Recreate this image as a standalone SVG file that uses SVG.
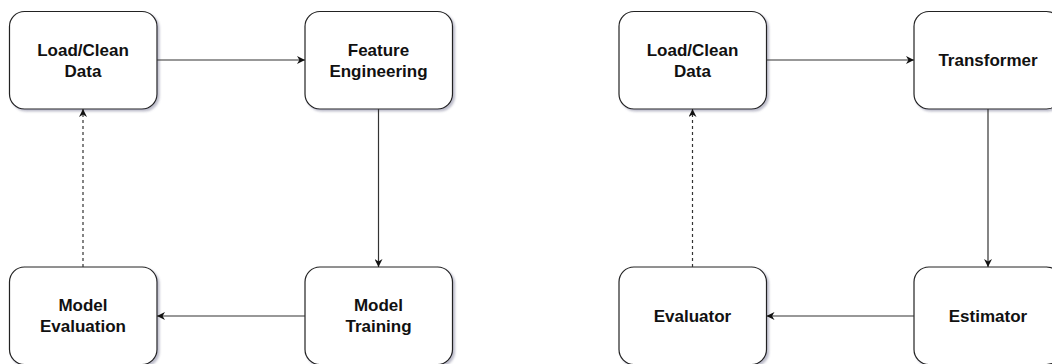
<svg xmlns="http://www.w3.org/2000/svg" width="1052" height="364" viewBox="0 0 1052 364">
  <style>
    .box { fill: #ffffff; stroke: #222222; stroke-width: 1.2; filter: url(#shadow); }
    .label { font-family: "Liberation Sans", Arial, sans-serif; font-weight: bold; font-size: 17px; fill: #111111; text-anchor: middle; }
    .edge { fill: none; stroke: #333333; stroke-width: 1.2; marker-end: url(#arrow); }
    .dashed { stroke-dasharray: 3 3; }
  </style>
  <defs>
    <filter id="shadow" x="-10%" y="-10%" width="130%" height="130%">
      <feDropShadow dx="2" dy="2" stdDeviation="1.2" flood-color="#6a6a8a" flood-opacity="0.45"/>
    </filter>
    <marker id="arrow" viewBox="0 0 10 10" refX="10" refY="5" markerWidth="8" markerHeight="8" markerUnits="userSpaceOnUse" orient="auto">
      <path d="M0,0 L10,5 L0,10 L3,5 Z" fill="#111111"/>
    </marker>
  </defs>
  <rect width="1052" height="364" fill="#ffffff"/>

  <!-- left pipeline -->
  <g id="load-clean-left">
    <rect class="box" x="9.5" y="11.5" width="147.5" height="97.5" rx="15"/>
    <text class="label" x="83" y="56">Load/Clean</text>
    <text class="label" x="83" y="77">Data</text>
  </g>
  <g id="feature-engineering">
    <rect class="box" x="305" y="11.5" width="147.5" height="97.5" rx="15"/>
    <text class="label" x="378.5" y="56">Feature</text>
    <text class="label" x="378.5" y="77">Engineering</text>
  </g>
  <g id="model-training">
    <rect class="box" x="305" y="267" width="147.5" height="97.5" rx="15"/>
    <text class="label" x="378.5" y="311">Model</text>
    <text class="label" x="378.5" y="332">Training</text>
  </g>
  <g id="model-evaluation">
    <rect class="box" x="9.5" y="267" width="147.5" height="97.5" rx="15"/>
    <text class="label" x="83" y="311">Model</text>
    <text class="label" x="83" y="332">Evaluation</text>
  </g>

  <!-- right pipeline -->
  <g id="load-clean-right">
    <rect class="box" x="619" y="11.5" width="147.5" height="97.5" rx="15"/>
    <text class="label" x="692.5" y="56">Load/Clean</text>
    <text class="label" x="692.5" y="77">Data</text>
  </g>
  <g id="transformer">
    <rect class="box" x="914" y="11.5" width="147.5" height="97.5" rx="15"/>
    <text class="label" x="988" y="66">Transformer</text>
  </g>
  <g id="estimator">
    <rect class="box" x="914" y="267" width="147.5" height="97.5" rx="15"/>
    <text class="label" x="988" y="322">Estimator</text>
  </g>
  <g id="evaluator">
    <rect class="box" x="619" y="267" width="147.5" height="97.5" rx="15"/>
    <text class="label" x="692.5" y="322">Evaluator</text>
  </g>

  <g id="connectors">
    <path class="edge" d="M157,60 L305,60"/>
    <path class="edge" d="M378.5,109 L378.5,267"/>
    <path class="edge" d="M305,316 L157,316"/>
    <path class="edge dashed" d="M83,267 L83,109"/>

    <path class="edge" d="M766.5,60 L914,60"/>
    <path class="edge" d="M988,109 L988,267"/>
    <path class="edge" d="M914,316 L766.5,316"/>
    <path class="edge dashed" d="M692.5,267 L692.5,109"/>
  </g>
</svg>
